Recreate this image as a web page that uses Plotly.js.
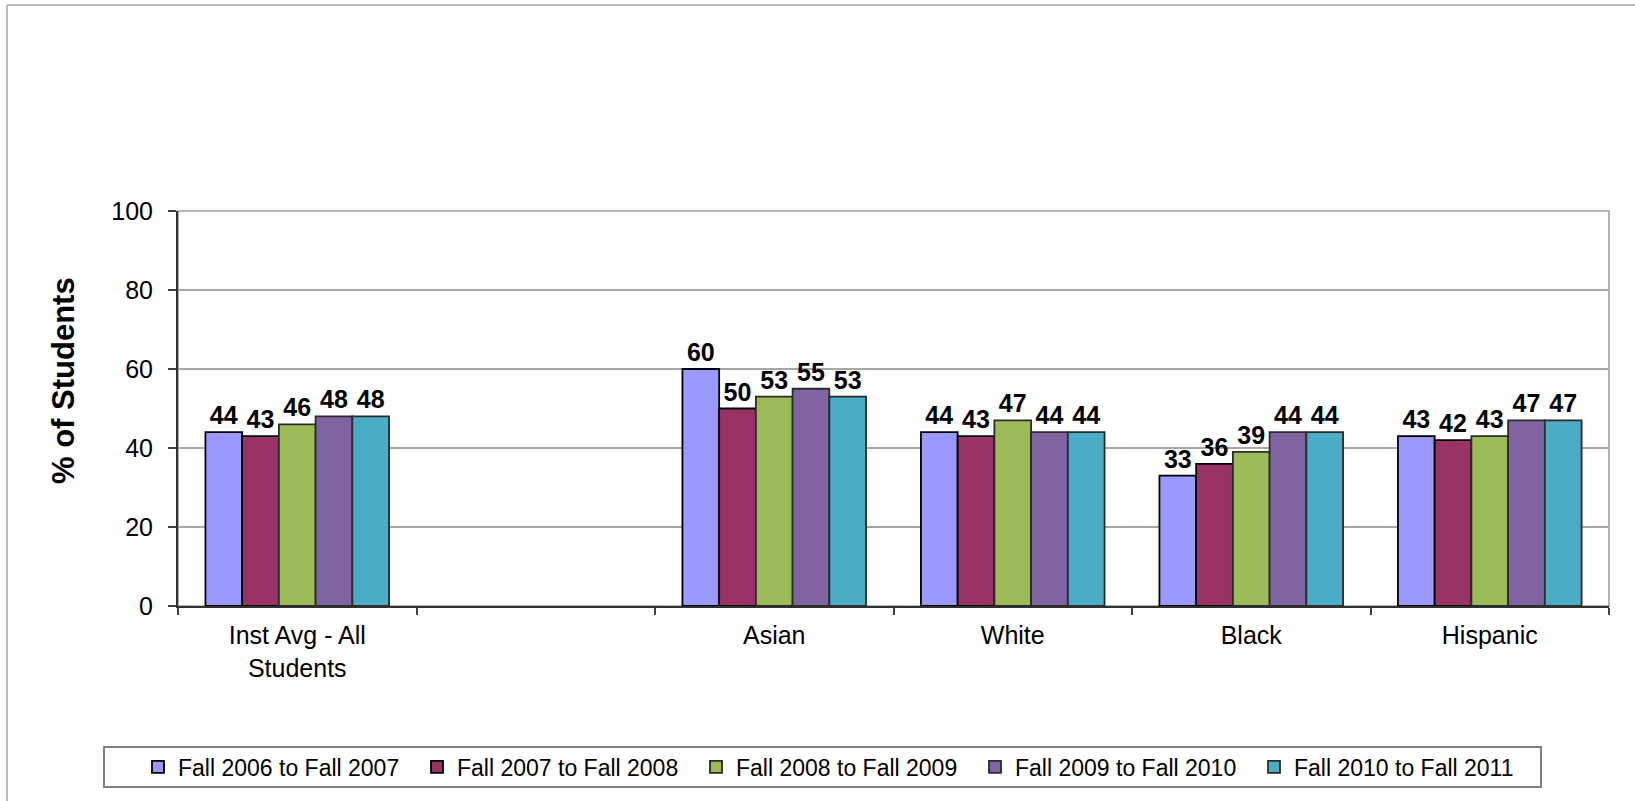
<!DOCTYPE html>
<html>
<head>
<meta charset="utf-8">
<script src="https://cdn.plot.ly/plotly-3.0.1.min.js"></script>
<style>
  html, body { margin: 0; padding: 0; background: #fff; }
  #chart { width: 1635px; height: 801px; }
</style>
</head>
<body>
<div id="chart"></div>
<script>
// Student groups (the blank slot keeps the gap after the institutional average)
const categories = ['Inst Avg - All<br>Students', ' ', 'Asian', 'White', 'Black', 'Hispanic'];

const seriesNames = [
  'Fall 2006 to Fall 2007',
  'Fall 2007 to Fall 2008',
  'Fall 2008 to Fall 2009',
  'Fall 2009 to Fall 2010',
  'Fall 2010 to Fall 2011'
];

// % of students, one value per category
const fall2006to2007 = [44, null, 60, 44, 33, 43];
const fall2007to2008 = [43, null, 50, 43, 36, 42];
const fall2008to2009 = [46, null, 53, 47, 39, 43];
const fall2009to2010 = [48, null, 55, 44, 44, 47];
const fall2010to2011 = [48, null, 53, 44, 44, 47];

const seriesValues = [fall2006to2007, fall2007to2008, fall2008to2009, fall2009to2010, fall2010to2011];
const seriesColors = ['#9999FF', '#993366', '#9BBB59', '#8064A2', '#4BACC6'];
const outlineColors = ['#000000', '#000000', '#2b2b2b', '#2b2b2b', '#2b2b2b'];

const FONT = 'Arial, "Liberation Sans", sans-serif';

// Figure geometry (pixels)
const W = 1635, H = 801;
const M = { l: 178, r: 26, t: 211, b: 195 };
const PW = W - M.l - M.r, PH = H - M.t - M.b;
const px = x => (x - M.l) / PW;          // pixel x -> paper x
const py = y => (H - M.b - y) / PH;      // pixel y -> paper y

const traces = seriesValues.map((vals, i) => ({
  type: 'bar',
  name: seriesNames[i],
  x: categories,
  y: vals,
  text: vals.map(v => (v === null ? '' : String(v))),
  textposition: 'outside',
  textfont: { family: FONT, size: 25, color: '#000', weight: 'bold' },
  constraintext: 'none',
  cliponaxis: false,
  hoverinfo: 'x+y+name',
  marker: {
    color: seriesColors[i],
    line: { color: outlineColors[i], width: 1.8 }
  }
}));

const layout = {
  width: W,
  height: H,
  margin: M,
  paper_bgcolor: '#ffffff',
  plot_bgcolor: '#ffffff',
  font: { family: FONT, size: 25, color: '#000' },
  barmode: 'group',
  bargap: 0.23,
  bargroupgap: 0,
  showlegend: true,
  xaxis: {
    type: 'category',
    categoryorder: 'array',
    categoryarray: categories,
    tickson: 'boundaries',
    ticks: 'outside',
    ticklen: 7,
    tickwidth: 1.5,
    tickcolor: '#404040',
    ticklabelstandoff: 6,
    showline: true,
    linecolor: '#303030',
    linewidth: 2,
    showgrid: false,
    zeroline: false,
    tickfont: { family: FONT, size: 25, color: '#000' },
    fixedrange: true
  },
  yaxis: {
    range: [0, 100],
    tickvals: [0, 20, 40, 60, 80, 100],
    ticks: 'outside',
    ticklen: 8,
    tickwidth: 1.5,
    tickcolor: '#404040',
    ticklabelstandoff: 10,
    showline: true,
    linecolor: '#303030',
    linewidth: 2,
    showgrid: true,
    gridcolor: '#a6a6a6',
    gridwidth: 1.5,
    zeroline: false,
    tickfont: { family: FONT, size: 25, color: '#000' },
    fixedrange: true
  },
  legend: {
    orientation: 'h',
    x: px(138),
    xanchor: 'left',
    y: py(767),
    yanchor: 'middle',
    bgcolor: 'rgba(0,0,0,0)',
    borderwidth: 0,
    font: { family: FONT, size: 23, color: '#000' },
    entrywidth: 234,
    entrywidthmode: 'pixels',
    itemclick: false,
    itemdoubleclick: false
  },
  annotations: [
    {
      text: '% of Students',
      xref: 'paper', yref: 'paper',
      x: px(63), y: py(381),
      xanchor: 'center', yanchor: 'middle',
      textangle: -90,
      showarrow: false,
      font: { family: FONT, size: 31, color: '#000', weight: 'bold' }
    }
  ],
  shapes: [
    // plot area frame (top and right edges in grey)
    {
      type: 'rect', xref: 'paper', yref: 'paper',
      x0: 0, x1: 1, y0: 0, y1: 1,
      line: { color: '#a0a0a0', width: 1.6 },
      layer: 'below'
    },
    // legend box
    {
      type: 'rect', xref: 'paper', yref: 'paper',
      x0: px(104), x1: px(1541), y0: py(787), y1: py(747),
      line: { color: '#808080', width: 2 },
      layer: 'above'
    },
    // outer chart frame: top and left edges
    {
      type: 'line', xref: 'paper', yref: 'paper',
      x0: px(7), x1: px(W + 5), y0: py(5), y1: py(5),
      line: { color: '#a6a6a6', width: 1.5 }
    },
    {
      type: 'line', xref: 'paper', yref: 'paper',
      x0: px(7), x1: px(7), y0: py(5), y1: py(H + 5),
      line: { color: '#a6a6a6', width: 1.5 }
    }
  ]
};

Plotly.newPlot('chart', traces, layout, { displayModeBar: false, staticPlot: false, responsive: false });
</script>
</body>
</html>
